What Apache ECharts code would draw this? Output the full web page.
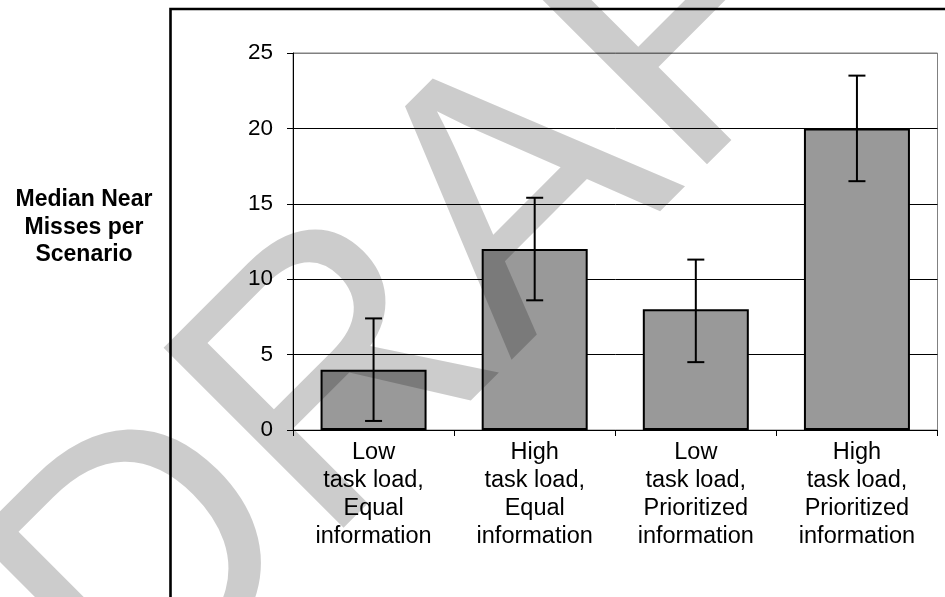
<!DOCTYPE html>
<html>
<head>
<meta charset="utf-8">
<script src="https://cdn.jsdelivr.net/npm/echarts@6/dist/echarts.min.js"></script>
<style>
html,body{margin:0;padding:0;background:#ffffff;}
#c{width:945px;height:597px;}
</style>
</head>
<body>
<div id="c"></div>
<script>
// ---- data ----
const categories = [
  'Low\ntask load,\nEqual\ninformation',
  'High\ntask load,\nEqual\ninformation',
  'Low\ntask load,\nPrioritized\ninformation',
  'High\ntask load,\nPrioritized\ninformation'
];
const medians = [4, 12, 8, 20];
const errLow  = [0.6, 8.6, 4.5, 16.5];
const errHigh = [7.4, 15.4, 11.3, 23.5];
const yMin = 0, yMax = 25, yStep = 5;
const yAxisTitle = 'Median Near\nMisses per\nScenario';
const watermarkText = 'DRAFT';

// ---- chart ----
const FONT = '"Liberation Sans", Arial, Helvetica, sans-serif';
const chart = echarts.init(document.getElementById('c'), null, {renderer: 'canvas'});

const errData = errLow.map((lo, i) => [i, lo, errHigh[i]]);

const option = {
  animation: false,
  backgroundColor: '#ffffff',
  grid: {
    left: 293, top: 53, width: 644.5, height: 377,
    show: true, borderColor: '#808080', borderWidth: 1,
    backgroundColor: 'transparent',
    containLabel: false, outerBoundsMode: 'none'
  },
  xAxis: {
    type: 'category',
    data: categories,
    axisLine: {show: true, lineStyle: {color: '#000', width: 1}},
    axisTick: {show: true, length: 6, interval: 0, alignWithLabel: false, lineStyle: {color: '#000', width: 1}},
    axisLabel: {interval: 0, fontSize: 23.5, lineHeight: 28, color: '#000', fontFamily: FONT, margin: 9},
    splitLine: {show: false}
  },
  yAxis: {
    type: 'value',
    min: yMin, max: yMax, interval: yStep,
    axisLine: {show: true, lineStyle: {color: '#000', width: 1}},
    axisTick: {show: true, length: 6, lineStyle: {color: '#000', width: 1}},
    axisLabel: {fontSize: 22.5, color: '#000', fontFamily: FONT, margin: 20},
    splitLine: {show: true, lineStyle: {color: ['#000', '#000', '#000', '#000', '#000', '#808080'], width: 1}}
  },
  series: [
    {
      type: 'bar',
      data: medians,
      barWidth: 106,
      itemStyle: {color: '#999999', borderColor: '#000', borderWidth: 2},
      z: 2
    },
    {
      type: 'custom',
      data: errData,
      encode: {x: 0, y: [1, 2]},
      z: 3,
      renderItem: function (params, api) {
        const xi = api.value(0);
        const lo = api.coord([xi, api.value(1)]);
        const hi = api.coord([xi, api.value(2)]);
        const cap = 8.5;
        const st = {stroke: '#000', lineWidth: 2, fill: null};
        return {
          type: 'group',
          children: [
            {type: 'line', shape: {x1: lo[0], y1: lo[1], x2: hi[0], y2: hi[1]}, style: st},
            {type: 'line', shape: {x1: lo[0] - cap, y1: lo[1], x2: lo[0] + cap, y2: lo[1]}, style: st},
            {type: 'line', shape: {x1: hi[0] - cap, y1: hi[1], x2: hi[0] + cap, y2: hi[1]}, style: st}
          ]
        };
      }
    }
  ],
  graphic: {
    elements: [
      {
        type: 'rect', silent: true, z: 0,
        shape: {x: 170.5, y: 9, width: 900, height: 700},
        style: {fill: 'transparent', stroke: '#000', lineWidth: 2.6}
      },
      {
        type: 'text', silent: true, x: 84, y: 186,
        style: {
          text: yAxisTitle, font: 'bold 23px ' + FONT, fill: '#000',
          textAlign: 'center', align: 'center',
          textVerticalAlign: 'top', verticalAlign: 'top', lineHeight: 27.5
        }
      },
      {
        type: 'text', silent: true, z: 100,
        x: 61, y: 666, rotation: Math.PI / 4,
        style: {
          text: watermarkText, font: '370px ' + FONT, fill: 'rgba(0,0,0,0.2)',
          textAlign: 'left', align: 'left',
          textVerticalAlign: 'middle', verticalAlign: 'middle'
        }
      }
    ]
  }
};
chart.setOption(option);
</script>
</body>
</html>
